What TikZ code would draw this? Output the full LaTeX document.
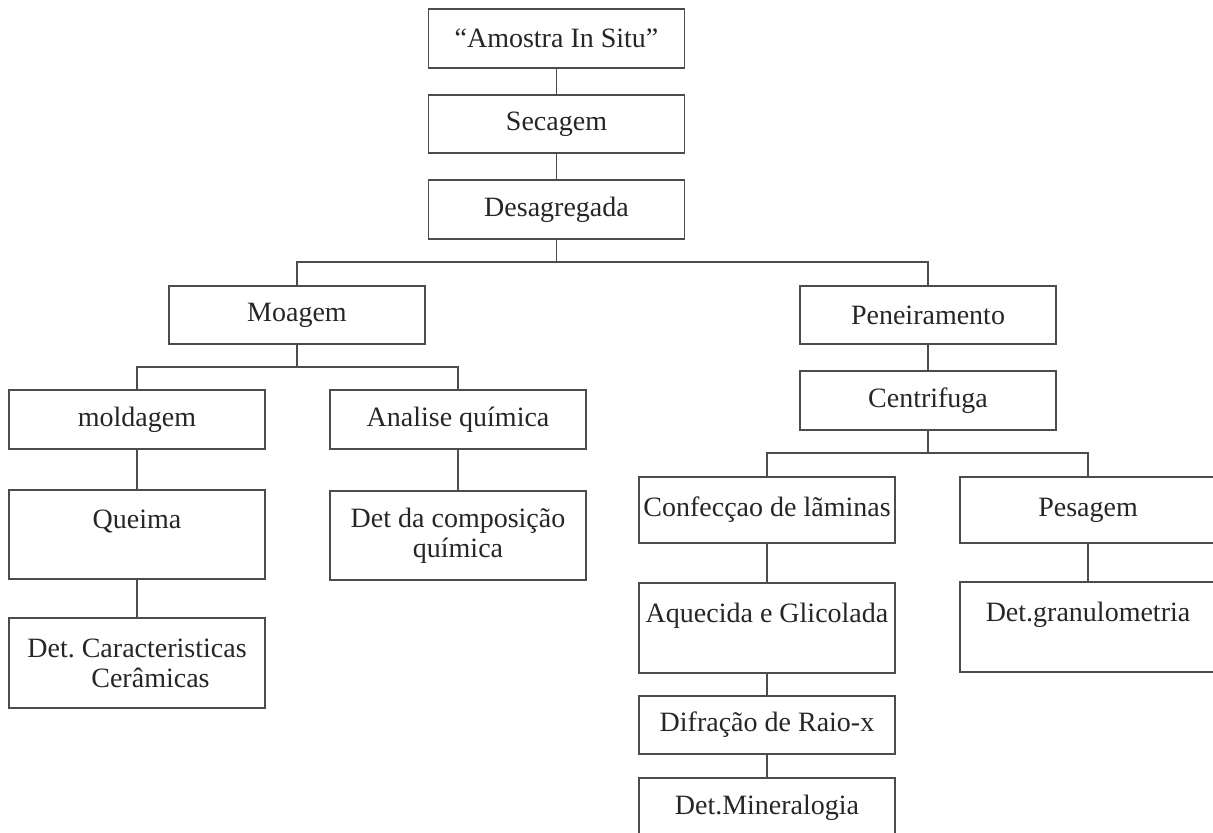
\documentclass[tikz,border=0pt]{standalone}
\usepackage{fontspec}
\setmainfont{Liberation Serif}
\usetikzlibrary{positioning}
\frenchspacing
\tikzset{
  node distance = 13.5pt and 1cm,
  stage/.style = {rectangle,
                  draw = black!70,
                  line width = 0.8pt,
                  align = center,
                  text = black!85,
                  font = \fontsize{14}{15}\selectfont,
                  minimum width = 128pt,
                  minimum height = 29.25pt,
                  inner sep = 0pt,
                  outer sep = 0pt},
  stagemid/.style = {stage, minimum height = 33.25pt},
  stagetall/.style = {stage, minimum height = 44.75pt},
  link/.style = {draw = black!70, line width = 0.8pt}
}
\begin{document}
\begin{tikzpicture}

\useasboundingbox (0,0) rectangle (606.5pt,-416.5pt);

\node[stage](amostra) at (278.25pt,-19.25pt){“Amostra In Situ”};

\node[stage](secagem)[below = of amostra]{Secagem}
  edge[link](amostra);

\node[stage](desagregada)[below = of secagem]{Desagregada}
  edge[link](secagem);

\node[stage](moagem)[below = 23.5pt of desagregada, xshift = -129.75pt]{Moagem};

\node[stage](peneiramento)[below = 23.5pt of desagregada, xshift = 185.75pt]{Peneiramento};

\draw[link] (desagregada.south) -- ++(0,-11.75pt) -| (moagem.north);
\draw[link] (desagregada.south) -- ++(0,-11.75pt) -| (peneiramento.north);

% ramo da moagem
\node[stage](moldagem)[below = 23pt of moagem, xshift = -80pt]{moldagem};

\node[stage](analise)[below = 23pt of moagem, xshift = 80.5pt]{Analise química};

\draw[link] (moagem.south) -- ++(0,-11.5pt) -| (moldagem.north);
\draw[link] (moagem.south) -- ++(0,-11.5pt) -| (analise.north);

\node[stagetall](queima)[below = 20.5pt of moldagem]{Queima\\\mbox{}}
  edge[link](moldagem);

\node[stagetall](det-ceramica)[below = 19.5pt of queima, align = left]{Det. Caracteristicas\\\hspace*{32pt}Cerâmicas}
  edge[link](queima);

\node[stagetall](det-quimica)[below = 21pt of analise]{Det da composição\\química}
  edge[link](analise);

% ramo do peneiramento
\node[stage](centrifuga)[below = of peneiramento]{Centrifuga}
  edge[link](peneiramento);

\node[stagemid](confeccao)[below = 23.5pt of centrifuga, xshift = -80.5pt]{Confecçao de lãminas};

\node[stagemid](pesagem)[below = 23.5pt of centrifuga, xshift = 80pt]{Pesagem};

\draw[link] (centrifuga.south) -- ++(0,-11.5pt) -| (confeccao.north);
\draw[link] (centrifuga.south) -- ++(0,-11.5pt) -| (pesagem.north);

\node[stagetall](aquecida)[below = 20pt of confeccao]{Aquecida e Glicolada\\\mbox{}}
  edge[link](confeccao);

\node[stage](difracao)[below = 11.5pt of aquecida]{Difração de Raio-x}
  edge[link](aquecida);

\node[stage](mineralogia)[below = 12pt of difracao]{Det.Mineralogia}
  edge[link](difracao);

\node[stagetall](granulometria)[below = 19.5pt of pesagem]{Det.granulometria\\\mbox{}}
  edge[link](pesagem);

\end{tikzpicture}
\end{document}
